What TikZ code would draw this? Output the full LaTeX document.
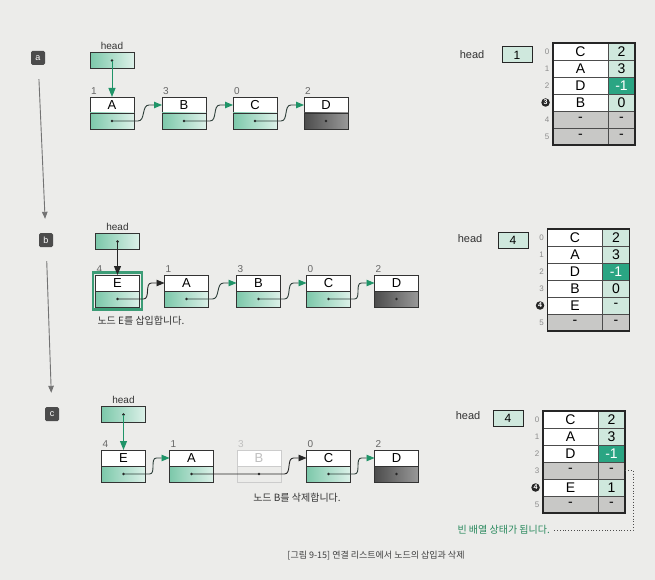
\documentclass[tikz,border=0pt]{standalone}
\usepackage{fontspec}
\setmainfont{Liberation Sans}
\newfontfamily\krfont{Noto Sans CJK KR}
\usetikzlibrary{positioning,arrows.meta,fit}
\definecolor{pagebg}{HTML}{ECECEA}
\definecolor{mintl}{HTML}{DDF1E9}
\definecolor{mintd}{HTML}{7CC8AA}
\definecolor{tealc}{HTML}{2AA583}
\definecolor{arrowg}{HTML}{1F9468}
\definecolor{linkc}{HTML}{2E3F3A}
\definecolor{hlg}{HTML}{3C9C76}
\definecolor{cellg}{HTML}{CFE8DD}
\definecolor{cellx}{HTML}{C8C8C6}
\definecolor{notec}{HTML}{2A8A5E}
\tikzset{
  listtop/.style={
    draw=black!80,
    line width=0.8pt,
    fill=white,
    minimum width=44pt,
    minimum height=16pt,
    inner sep=0pt,
    outer sep=0pt,
    font=\fontsize{13}{13}\selectfont
  },
  listbot/.style={
    draw=black!80,
    line width=0.8pt,
    left color=mintd,
    right color=mintl,
    minimum width=44pt,
    minimum height=16pt,
    inner sep=0pt,
    outer sep=0pt
  },
  listend/.style={listbot, left color=black!70, right color=black!40},
  fadetop/.style={listtop, draw=black!20, text=black!25},
  fadebot/.style={listbot, draw=black!20, left color=pagebg, right color=pagebg},
  headbox/.style={
    draw=black!80,
    line width=0.8pt,
    left color=mintd,
    right color=mintl,
    minimum width=44pt,
    minimum height=16pt,
    inner sep=0pt
  },
  headtxt/.style={font=\fontsize{10}{10}\selectfont, text=black!80, inner sep=1pt},
  idx/.style={font=\fontsize{10}{10}\selectfont, text=black!60, inner sep=1pt},
  hlbox/.style={draw=hlg, line width=2.5pt, inner sep=2.5pt},
  link/.style={draw=linkc, line width=0.9pt, -{Triangle[length=8pt,width=6.5pt,color=arrowg]}},
  blink/.style={draw=black!85, line width=0.9pt, -{Triangle[length=8pt,width=6.5pt]}},
  headlink/.style={draw=arrowg, line width=1pt, -{Triangle[length=9pt,width=7pt]}},
  headblink/.style={draw=black!85, line width=1pt, -{Triangle[length=9pt,width=7pt]}},
  panelmk/.style={
    fill=black!70,
    rounded corners=1.5pt,
    minimum size=14pt,
    inner sep=0pt,
    text=white,
    font=\fontsize{9}{9}\selectfont
  },
  flow/.style={draw=black!55, line width=0.9pt, shorten <=14pt, shorten >=14pt,
    -{Triangle[length=7pt,width=5.5pt]}},
  wcell/.style={
    draw=black!70,
    line width=0.6pt,
    fill=white,
    minimum width=55pt,
    minimum height=17pt,
    inner sep=0pt,
    outer sep=0pt,
    font=\fontsize{14}{14}\selectfont
  },
  gcell/.style={wcell, fill=cellg, minimum width=27pt},
  tcell/.style={gcell, fill=tealc, text=white},
  xcell/.style={wcell, fill=cellx},
  xrcell/.style={xcell, minimum width=27pt},
  tabidx/.style={font=\fontsize{8}{8}\selectfont, text=black!45, inner sep=0.5pt},
  tabmark/.style={circle, fill=black!85, text=white, inner sep=0pt, minimum size=8.5pt,
    font=\fontsize{7}{7}\selectfont\bfseries},
  tabhead/.style={draw=black!85, line width=1pt, fill=cellg, minimum width=30pt,
    minimum height=16pt, inner sep=0pt, font=\fontsize{12}{12}\selectfont},
  tabhtxt/.style={font=\fontsize{11}{11}\selectfont, text=black!80},
  tframe/.style={draw=black!85, line width=1.2pt},
  krnote/.style={font=\krfont\fontsize{10}{10}\selectfont, text=black!80}
}

% an empty array slot
\newcommand{\emptyslot}{\raisebox{-2.5pt}{-}}

% one list node: top part with the letter, bottom part with the pointer dot
\newcommand{\listnode}[7][listtop]{%
  \node[#1] (#2-t) at (#3,#4) {#5};
  \node[#7, below=0pt of #2-t] (#2-b) {};
  \fill[black!85] (#2-b.center) circle (1.4pt);
  \node[idx, anchor=south west] (#2-n) at ([yshift=1.5pt]#2-t.north west) {#6};
}
\newcommand{\nextlink}[3][link]{%
  \draw[#1] (#2-b.center) -- ([xshift=4pt]#2-b.east)
    to[out=0,in=180] ([xshift=-13pt]#3-t.west) -- (#3-t.west);
}

\begin{document}
\begin{tikzpicture}[x=1pt,y=-1pt]
  \fill[pagebg] (0,0) rectangle (655,580);
  \useasboundingbox (0,0) rectangle (655,580);

  % steps
  \node[panelmk] (mA) at (38,58) {a};
  \node[panelmk] (mB) at (46,240) {b};
  \node[panelmk] (mC) at (52,414) {c};
  \draw[flow] (mA) -- (mB);
  \draw[flow] (mB) -- (mC);

  % (a) list
  \listnode{aA}{112}{105}{A}{1}{listbot}
  \listnode{aB}{184}{105}{B}{3}{listbot}
  \listnode{aC}{255}{105}{C}{0}{listbot}
  \listnode{aD}{326}{105}{D}{2}{listend}
  \node[headbox, above=28pt of aA-t] (aH) {};
  \fill[black!85] (aH.center) circle (1.4pt);
  \node[headtxt, above=1pt of aH] (aHl) {head};
  \draw[headlink] (aH.center) -- (aA-t.north);
  \nextlink{aA}{aB}
  \nextlink{aB}{aC}
  \nextlink{aC}{aD}

  % (a) array
  \node[tabhtxt] (taHl) at (472,55) {head};
  \node[tabhead] (taH) at (517,55) {1};
  \foreach \l/\r/\ls/\rs/\is [count=\i from 0] in {C/2/wcell/gcell/tabidx, A/3/wcell/gcell/tabidx,
      D/-1/wcell/tcell/tabidx, B/0/wcell/gcell/tabmark,
      \emptyslot/\emptyslot/xcell/xrcell/tabidx, \emptyslot/\emptyslot/xcell/xrcell/tabidx} {
    \node[\ls] (ta-l\i) at (580.5,{51.5+17*\i}) {\l};
    \node[\rs, right=0pt of ta-l\i] (ta-r\i) {\r};
    \node[\is, left=3pt of ta-l\i] (ta-i\i) {\i};
  }
  \draw[tframe] (ta-l0.north west) rectangle (ta-r5.south east);

  % (b) list
  \listnode{bE}{117.5}{283}{E}{4}{listbot}
  \listnode{bA}{186.5}{283}{A}{1}{listbot}
  \listnode{bB}{258.5}{283}{B}{3}{listbot}
  \listnode{bC}{328.5}{283}{C}{0}{listbot}
  \listnode{bD}{396.5}{283}{D}{2}{listend}
  \node[hlbox, fit=(bE-t)(bE-b)] (bEh) {};
  \node[headbox, above=25pt of bE-t] (bH) {};
  \fill[black!85] (bH.center) circle (1.4pt);
  \node[headtxt, above=1pt of bH] (bHl) {head};
  \draw[headblink] (bH.center) -- (bE-t.north);
  \nextlink[blink]{bE}{bA}
  \nextlink{bA}{bB}
  \nextlink{bB}{bC}
  \nextlink{bC}{bD}
  \node[krnote, anchor=west] (bNote) at (94,321) {노드 E를 삽입합니다.};

  % (b) array
  \node[tabhtxt] (tbHl) at (470,239) {head};
  \node[tabhead] (tbH) at (513,240) {4};
  \foreach \l/\r/\ls/\rs/\is [count=\i from 0] in {C/2/wcell/gcell/tabidx, A/3/wcell/gcell/tabidx,
      D/-1/wcell/tcell/tabidx, B/0/wcell/gcell/tabidx, E/\emptyslot/wcell/gcell/tabmark,
      \emptyslot/\emptyslot/xcell/xrcell/tabidx} {
    \node[\ls] (tb-l\i) at (575,{237.5+17*\i}) {\l};
    \node[\rs, right=0pt of tb-l\i] (tb-r\i) {\r};
    \node[\is, left=3pt of tb-l\i] (tb-i\i) {\i};
  }
  \draw[tframe] (tb-l0.north west) rectangle (tb-r5.south east);

  % (c) list
  \listnode{cE}{123.5}{458}{E}{4}{listbot}
  \listnode{cA}{191.5}{458}{A}{1}{listbot}
  \listnode[fadetop]{cB}{259}{458}{B}{{\color{black!25}3}}{fadebot}
  \listnode{cC}{328.5}{458}{C}{0}{listbot}
  \listnode{cD}{396.5}{458}{D}{2}{listend}
  \node[headbox, above=27pt of cE-t] (cH) {};
  \fill[black!85] (cH.center) circle (1.4pt);
  \node[headtxt, above=1pt of cH] (cHl) {head};
  \draw[headlink] (cH.center) -- (cE-t.north);
  \nextlink{cE}{cA}
  \draw[blink] (cA-b.center) -- ([xshift=-22pt]cC-b.west)
    to[out=0,in=180] ([xshift=-13pt]cC-t.west) -- (cC-t.west);
  \nextlink{cC}{cD}
  \node[krnote] (cNote) at (297,498) {노드 B를 삭제합니다.};

  % (c) array
  \node[tabhtxt] (tcHl) at (468,416) {head};
  \node[tabhead] (tcH) at (508,418) {4};
  \foreach \l/\r/\ls/\rs/\is [count=\i from 0] in {C/2/wcell/gcell/tabidx, A/3/wcell/gcell/tabidx,
      D/-1/wcell/tcell/tabidx, \emptyslot/\emptyslot/xcell/xrcell/tabidx, E/1/wcell/gcell/tabmark,
      \emptyslot/\emptyslot/xcell/xrcell/tabidx} {
    \node[\ls] (tc-l\i) at (570.5,{419.5+17*\i}) {\l};
    \node[\rs, right=0pt of tc-l\i] (tc-r\i) {\r};
    \node[\is, left=3pt of tc-l\i] (tc-i\i) {\i};
  }
  \draw[tframe] (tc-l0.north west) rectangle (tc-r5.south east);
  \node[krnote, text=notec, anchor=west] (tcNote) at (454,530) {빈 배열 상태가 됩니다.};
  \draw[black!70, dotted, line width=0.8pt] (tc-r3.east) -- ++(8,0) |- (tcNote.east);

  % caption
  \node[krnote, font=\krfont\fontsize{9}{9}\selectfont, text=black!75] (cap) at (376,556)
    {[그림 9-15] 연결 리스트에서 노드의 삽입과 삭제};
\end{tikzpicture}
\end{document}
